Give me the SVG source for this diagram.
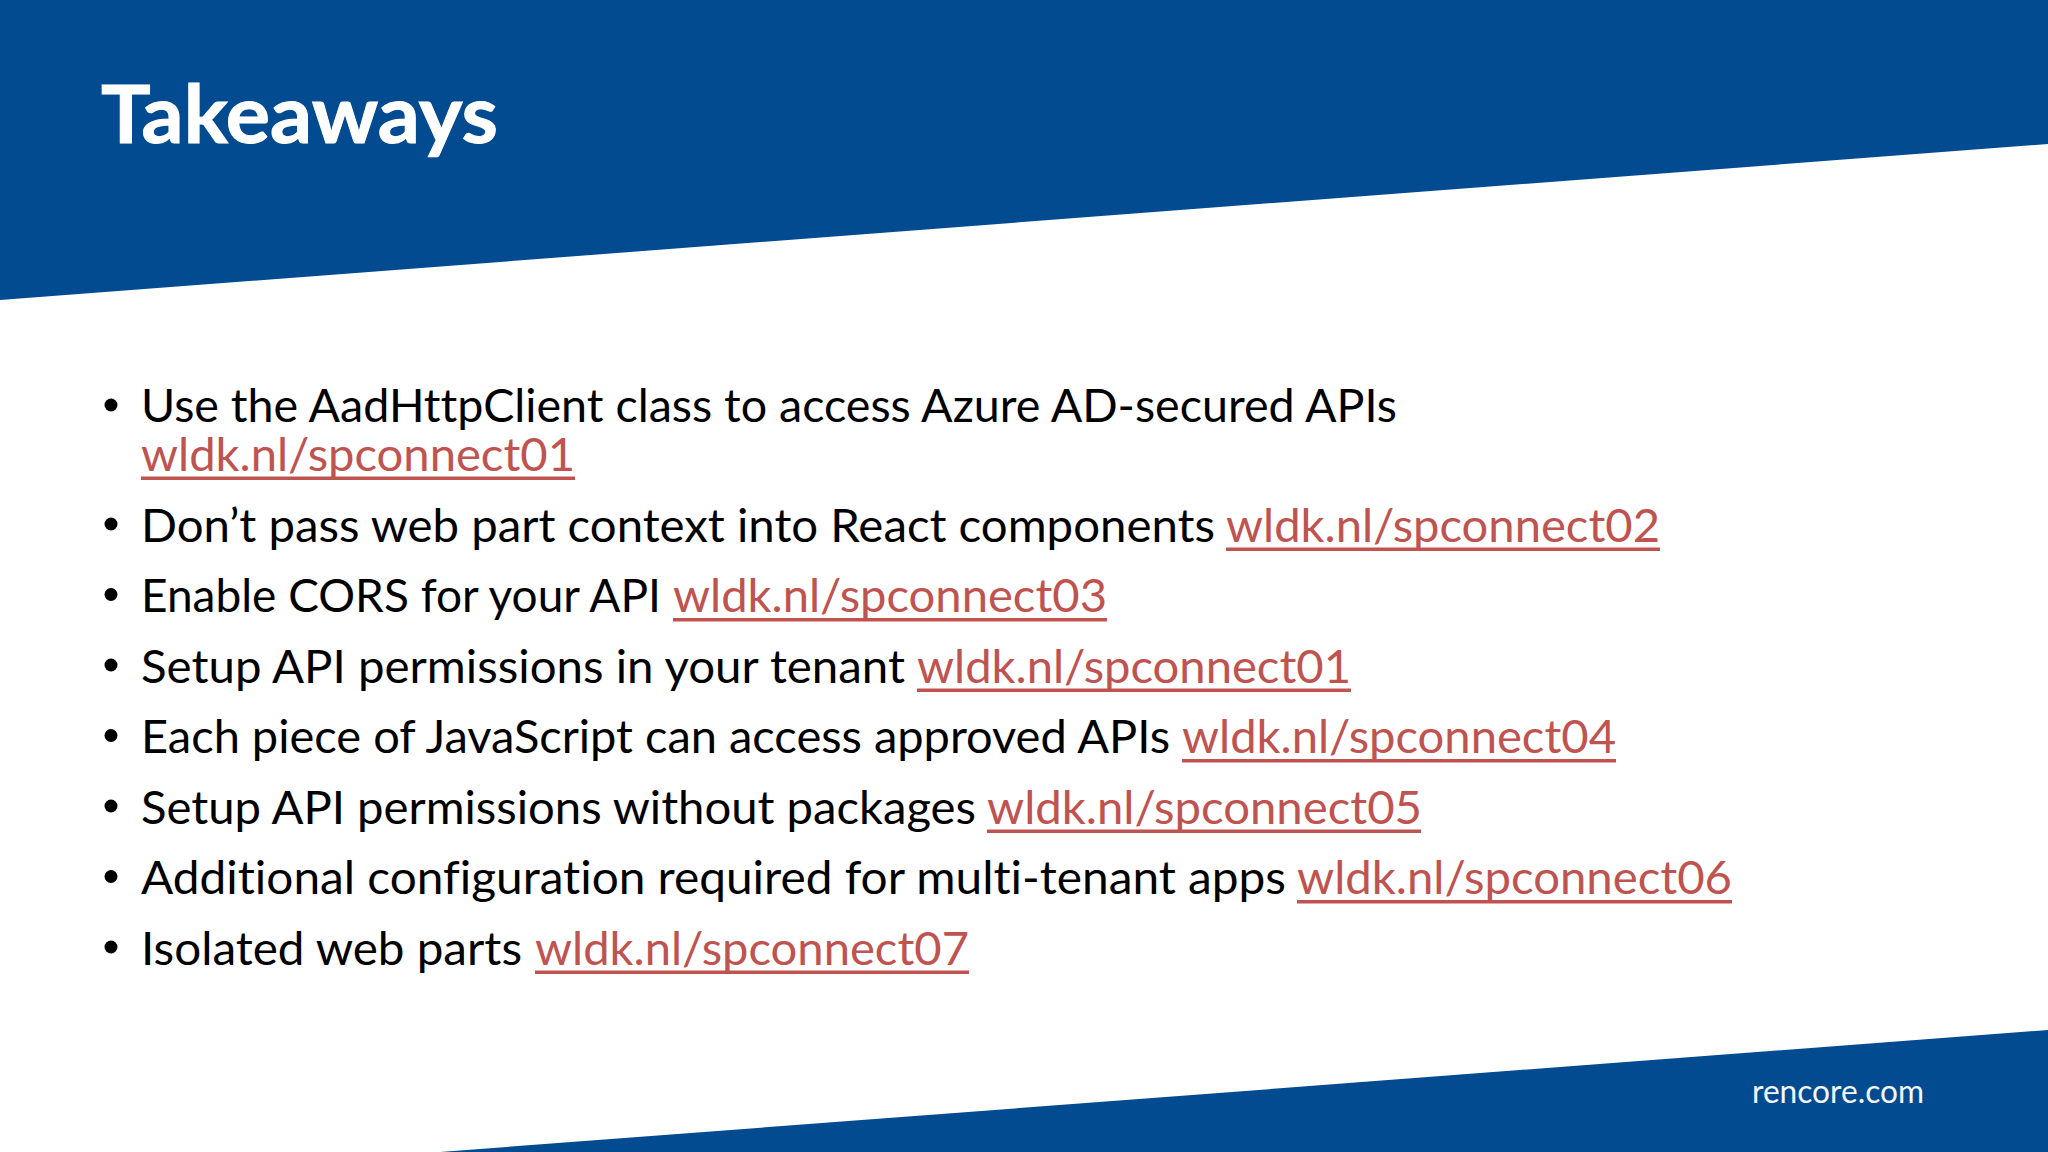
<svg xmlns="http://www.w3.org/2000/svg" width="2048" height="1152" viewBox="0 0 2048 1152">
<style>
text{font-family:"Lato","Open Sans","Liberation Sans",sans-serif;font-variant-ligatures:none}
.b{font-size:46.5px;fill:#000}
.l{font-size:46.5px;fill:#BF5350}
.u{fill:#BF5350}
.blue{fill:#034B90}
</style>
<rect width="2048" height="1152" fill="#fff"/>
<polygon class="blue" points="0,0 2048,0 2048,144 0,300"/>
<polygon class="blue" points="2048,1030 2048,1152 440,1152"/>
<text x="101" y="143" font-size="81" font-weight="700" fill="#fff" stroke="#fff" stroke-width="1" textLength="397" lengthAdjust="spacingAndGlyphs">Takeaways</text>
<text x="1752" y="1103" font-size="33" fill="#F4F7FB" textLength="172" lengthAdjust="spacingAndGlyphs">rencore.com</text>
<g fill="#000">
<circle cx="111" cy="405" r="6.5"/><circle cx="111" cy="524" r="6.5"/><circle cx="111" cy="594.5" r="6.5"/><circle cx="111" cy="665" r="6.5"/><circle cx="111" cy="735.5" r="6.5"/><circle cx="111" cy="806" r="6.5"/><circle cx="111" cy="876.5" r="6.5"/><circle cx="111" cy="947" r="6.5"/>
</g>
<text class="b" x="141" y="422" textLength="1256" lengthAdjust="spacingAndGlyphs">Use the AadHttpClient class to access Azure AD-secured APIs</text>
<text class="l" x="141" y="470.5" textLength="434" lengthAdjust="spacingAndGlyphs">wldk.nl/spconnect01</text>
<rect class="u" x="141" y="476.5" width="434" height="3.5"/>
<text class="b" x="141" y="541.5" textLength="1074" lengthAdjust="spacingAndGlyphs">Don’t pass web part context into React components</text>
<text class="l" x="1226" y="541.5" textLength="434" lengthAdjust="spacingAndGlyphs">wldk.nl/spconnect02</text>
<rect class="u" x="1226" y="547.5" width="434" height="3.5"/>
<text class="b" x="141" y="611.5" textLength="520" lengthAdjust="spacingAndGlyphs">Enable CORS for your API</text>
<text class="l" x="673" y="611.5" textLength="434" lengthAdjust="spacingAndGlyphs">wldk.nl/spconnect03</text>
<rect class="u" x="673" y="618" width="434" height="3.5"/>
<text class="b" x="141" y="682.5" textLength="764" lengthAdjust="spacingAndGlyphs">Setup API permissions in your tenant</text>
<text class="l" x="917" y="682.5" textLength="434" lengthAdjust="spacingAndGlyphs">wldk.nl/spconnect01</text>
<rect class="u" x="917" y="688.5" width="434" height="3.5"/>
<text class="b" x="141" y="752.5" textLength="1029" lengthAdjust="spacingAndGlyphs">Each piece of JavaScript can access approved APIs</text>
<text class="l" x="1182" y="752.5" textLength="434" lengthAdjust="spacingAndGlyphs">wldk.nl/spconnect04</text>
<rect class="u" x="1182" y="759" width="434" height="3.5"/>
<text class="b" x="141" y="823.5" textLength="835" lengthAdjust="spacingAndGlyphs">Setup API permissions without packages</text>
<text class="l" x="987" y="823.5" textLength="435" lengthAdjust="spacingAndGlyphs">wldk.nl/spconnect05</text>
<rect class="u" x="987" y="829.5" width="434" height="3.5"/>
<text class="b" x="141" y="893.5" textLength="1145" lengthAdjust="spacingAndGlyphs">Additional configuration required for multi-tenant apps</text>
<text class="l" x="1297" y="893.5" textLength="435" lengthAdjust="spacingAndGlyphs">wldk.nl/spconnect06</text>
<rect class="u" x="1297" y="900" width="435" height="3.5"/>
<text class="b" x="141" y="964.5" textLength="381" lengthAdjust="spacingAndGlyphs">Isolated web parts</text>
<text class="l" x="535" y="964.5" textLength="434" lengthAdjust="spacingAndGlyphs">wldk.nl/spconnect07</text>
<rect class="u" x="535" y="970.5" width="434" height="3.5"/>
</svg>
